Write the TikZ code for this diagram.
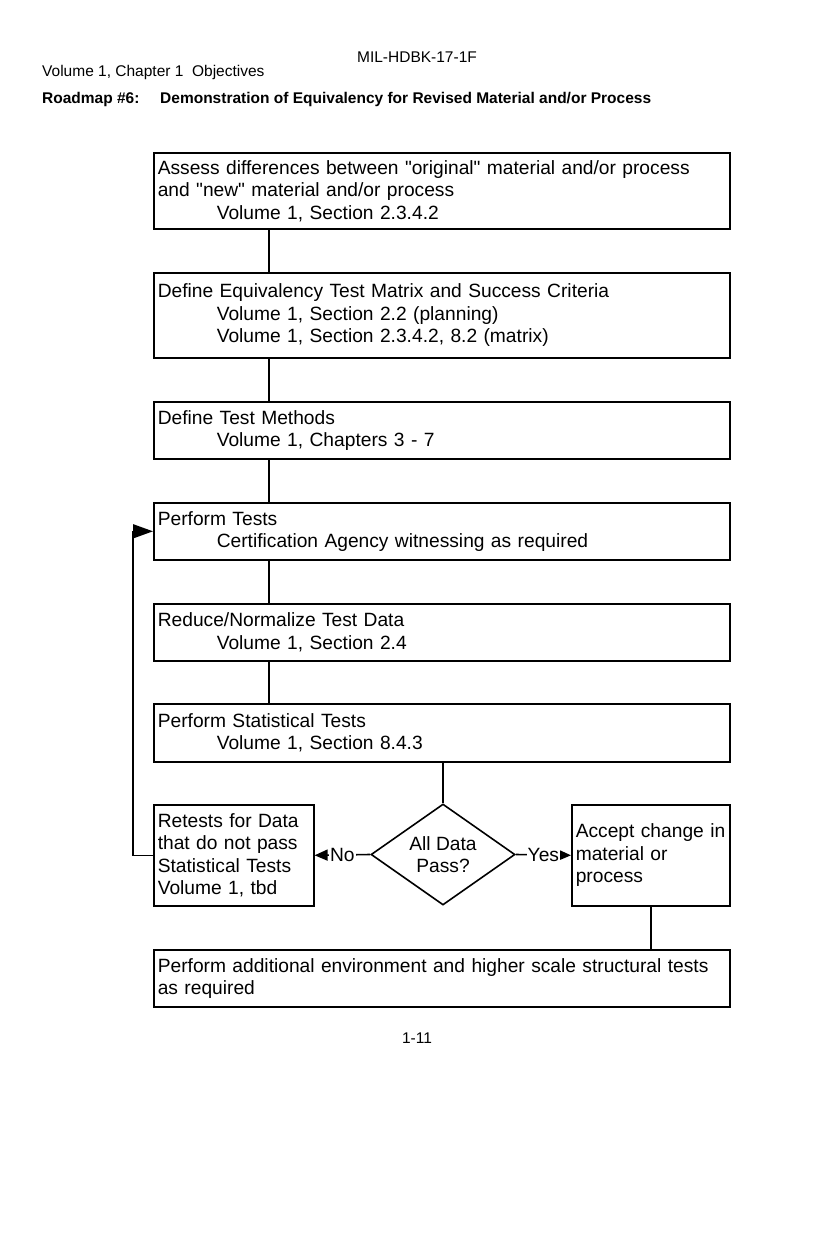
\documentclass[tikz,border=0pt]{standalone}
\usepackage{fontspec}
\setmainfont{Liberation Sans}[Ligatures=TeXOff]
\usetikzlibrary{arrows.meta,shapes.geometric}
\newcommand\boxfont{\fontsize{19.2}{22.5}\selectfont}
\newcommand\hdfont{\fontsize{15.5}{19}\selectfont}
\newcommand\ind{\hspace*{59pt}}
\tikzset{
  box/.style={draw, line width=1.6pt, anchor=north west, inner xsep=4pt, inner ysep=0pt, align=left, font=\boxfont},
  conn/.style={line width=1.6pt},
  hd/.style={inner sep=0pt, font=\hdfont},
  lab/.style={fill=white, inner sep=1pt, font=\boxfont}
}
\begin{document}
\begin{tikzpicture}[x=1pt,y=-1pt]
\useasboundingbox (0,0) rectangle (834,1237);
\fill[white] (0,0) rectangle (834,1237);

% header and footer
\node[hd, anchor=base] (h1) at (417,62) {MIL-HDBK-17-1F};
\node[hd, anchor=base west] (h2) at (42,76) {Volume 1, Chapter 1\ \ Objectives};
\node[hd, anchor=base west, font=\hdfont\bfseries] (h3) at (42,103) {Roadmap \#6:};
\node[hd, anchor=base west, font=\hdfont\bfseries] (h4) at (160,103) {Demonstration of Equivalency for Revised Material and/or Process};
\node[hd, anchor=base] (foot) at (417,1043) {1-11};

\coordinate (trunk) at (269,0);

% main boxes
\node[box, text width=568pt, minimum height=76pt] (b1) at (153,152)
  {Assess differences between "original" material and/or process\\
   and "new" material and/or process\\
   \ind Volume 1, Section 2.3.4.2};
\node[box, text width=568pt, minimum height=85pt] (b2) at (153,272)
  {Define Equivalency Test Matrix and Success Criteria\\
   \ind Volume 1, Section 2.2 (planning)\\
   \ind Volume 1, Section 2.3.4.2, 8.2 (matrix)};
\node[box, text width=568pt, minimum height=57pt] (b3) at (153,401)
  {Define Test Methods\\
   \ind Volume 1, Chapters 3 - 7};
\node[box, text width=568pt, minimum height=57pt] (b4) at (153,502)
  {Perform Tests\\
   \ind Certification Agency witnessing as required};
\node[box, text width=568pt, minimum height=57pt] (b5) at (153,603)
  {Reduce/Normalize Test Data\\
   \ind Volume 1, Section 2.4};
\node[box, text width=568pt, minimum height=58pt] (b6) at (153,703)
  {Perform Statistical Tests\\
   \ind Volume 1, Section 8.4.3};

% decision row
\node[draw, line width=1.6pt, diamond, aspect=1.44, minimum width=144pt, minimum height=101pt,
      inner sep=0pt, align=center, font=\boxfont] (d) at (443,854.5) {All Data\\Pass?};
\node[box, text width=152pt, minimum height=101pt] (r) at (153,804)
  {Retests for Data\\that do not pass\\Statistical Tests\\Volume 1, tbd};
\node[box, text width=150pt, minimum height=101pt] (acc) at (571,804)
  {Accept change in\\material or\\process};

% final box
\node[box, text width=568pt, minimum height=57pt] (fin) at (153,949)
  {Perform additional environment and higher scale structural tests\\
   as required};

% connectors
\draw[conn] (b1.south -| trunk) -- (b2.north -| trunk);
\draw[conn] (b2.south -| trunk) -- (b3.north -| trunk);
\draw[conn] (b3.south -| trunk) -- (b4.north -| trunk);
\draw[conn] (b4.south -| trunk) -- (b5.north -| trunk);
\draw[conn] (b5.south -| trunk) -- (b6.north -| trunk);
\draw[conn] (b6.south -| d.north) -- (d.north);
\draw[conn, -{Triangle[length=13pt,width=11pt]}] (d.west) -- node[lab] {No} (r.east);
\draw[conn, -{Triangle[length=13pt,width=11pt]}] (d.east) -- node[lab] {Yes} (acc.west);
\draw[conn] (acc.south) -- (acc.south |- fin.north);
\draw[conn, -{Triangle[length=20pt,width=14pt]}] (r.west) -- ++(-20,0) |- (b4.west);
\end{tikzpicture}
\end{document}
